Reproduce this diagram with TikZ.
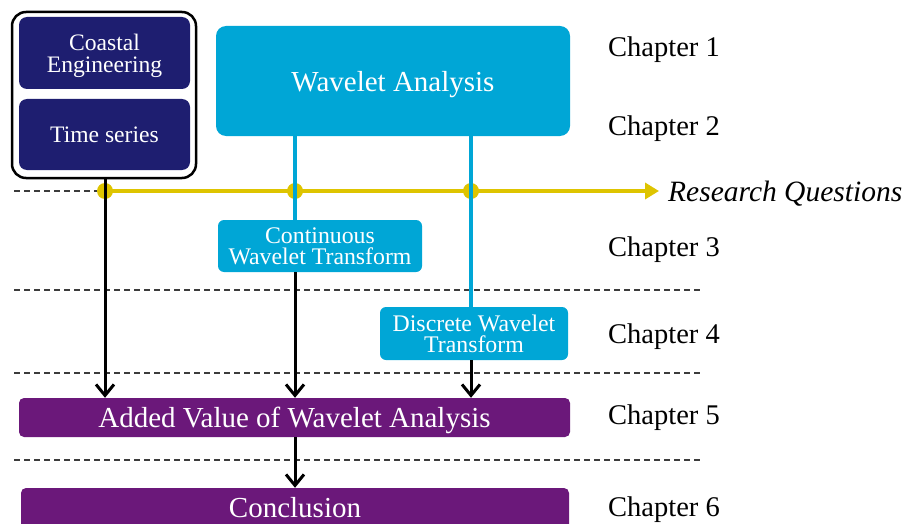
\documentclass[tikz,border=0pt]{standalone}
\usepackage{fontspec}
\setmainfont{Liberation Serif}
\usetikzlibrary{arrows.meta}
\definecolor{navy}{RGB}{30,30,112}
\definecolor{wblue}{RGB}{0,166,214}
\definecolor{wpurple}{RGB}{107,24,122}
\definecolor{wyellow}{RGB}{222,196,0}
\definecolor{dashgrey}{RGB}{60,60,60}
\tikzset{
  navybox/.style={fill=navy, text=white, rounded corners=8pt, minimum width=171pt, align=center, font=\fontsize{23.6}{22}\selectfont, inner sep=0pt, text depth=0pt},
  bluebox/.style={fill=wblue, text=white, rounded corners=6pt, align=center, font=\fontsize{23.8}{21.5}\selectfont, inner sep=0pt, text depth=0pt},
  purplebox/.style={fill=wpurple, text=white, rounded corners=5pt, align=center, font=\fontsize{29}{30}\selectfont, inner sep=0pt, text depth=0pt},
  chap/.style={anchor=west, font=\fontsize{28.5}{30}\selectfont, inner sep=0pt, text depth=0pt},
  blueline/.style={draw=wblue, line width=4pt},
  yline/.style={draw=wyellow, line width=4pt},
  ydot/.style={fill=wyellow},
  sep/.style={draw=dashgrey, line width=1.3pt, dash pattern=on 6pt off 4pt},
  arr/.style={draw=black, line width=3pt, -{Straight Barb[length=11pt,width=18pt]}},
}
\begin{document}
\begin{tikzpicture}[x=1pt,y=-1pt]
\useasboundingbox (0,0) rectangle (909,524);
\clip (0,0) rectangle (909,524);
% coordinates
\coordinate (d1) at (105,191);
\coordinate (d2) at (295,191);
\coordinate (d3) at (471,191);
\coordinate (rqend) at (659,191);
\coordinate (l0) at (14,191);
\coordinate (la) at (14,290);
\coordinate (ra) at (703,290);
\coordinate (lb) at (14,373);
\coordinate (rb) at (703,373);
\coordinate (lc) at (14,460);
\coordinate (rc) at (703,460);
% boxes
\node[draw=black, line width=2.5pt, rounded corners=14pt, minimum width=184pt, minimum height=166pt, inner sep=0pt] (outer) at (104,95) {};
\node[navybox, minimum height=72pt] (coastal) at (104.5,53) {Coastal\\Engineering};
\node[navybox, minimum height=71pt] (time) at (104.5,134.5) {Time series};
\node[fill=wblue, text=white, rounded corners=10pt, minimum width=354pt, minimum height=110pt, font=\fontsize{29}{30}\selectfont, inner sep=0pt, text depth=0pt] (wa) at (393,81) {Wavelet Analysis};
\node[bluebox, minimum width=204pt, minimum height=52pt] (cwt) at (320,246) {Continuous\\Wavelet Transform};
\node[bluebox, minimum width=188pt, minimum height=53pt] (dwt) at (474,333.5) {Discrete Wavelet\\Transform};
\node[purplebox, minimum width=551pt, minimum height=39pt] (av) at (294.5,417.5) {Added Value of Wavelet Analysis};
\node[purplebox, minimum width=548pt, minimum height=44pt, text depth=6pt] (conc) at (295,510) {Conclusion};
% dashed separators
\draw[sep] (l0) -- (d1);
\draw[sep] (la) -- (ra);
\draw[sep] (lb) -- (rb);
\draw[sep] (lc) -- (rc);
% research questions line
\draw[yline, -{Triangle[length=14pt,width=16pt]}] (d1) -- (rqend);
\fill[ydot] (d1) circle (8pt);
\fill[ydot] (d2) circle (8pt);
\fill[ydot] (d3) circle (8pt);
\node[anchor=west, font=\fontsize{29.5}{30}\selectfont\itshape, inner sep=0pt, text depth=0pt] (rq) at (668,191) {Research Questions};
% blue lines
\draw[blueline] (wa.south -| d2) -- (d2 |- cwt.north);
\draw[blueline] (wa.south -| d3) -- (d3 |- dwt.north);
% black arrows
\draw[arr] (d1 |- outer.south) -- (d1 |- av.north);
\draw[arr] (d2 |- cwt.south) -- (d2 |- av.north);
\draw[arr] (d3 |- dwt.south) -- (d3 |- av.north);
\draw[arr] (d2 |- av.south) -- (d2 |- conc.north);
% chapter labels
\node[chap] (c1) at (608,47) {Chapter 1};
\node[chap] (c2) at (608,126) {Chapter 2};
\node[chap] (c3) at (608,247) {Chapter 3};
\node[chap] (c4) at (608,334) {Chapter 4};
\node[chap] (c5) at (608,415) {Chapter 5};
\node[chap] (c6) at (608,507) {Chapter 6};
\end{tikzpicture}
\end{document}
